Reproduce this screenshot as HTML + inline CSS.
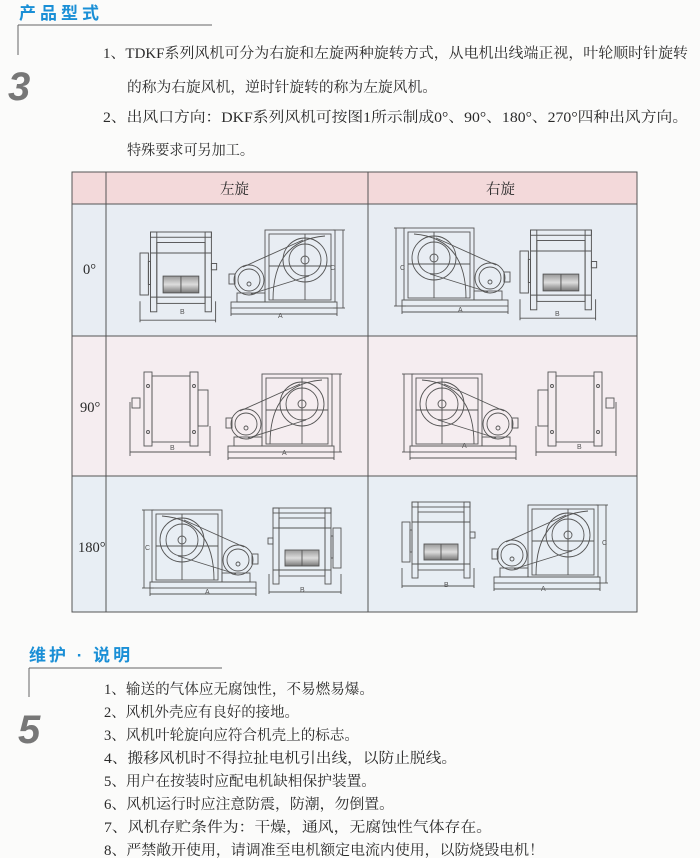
<!DOCTYPE html>
<html><head><meta charset="utf-8"><style>
html,body{margin:0;padding:0;background:#fbfbfa;}
svg{display:block}
.t{font-family:"Liberation Serif","Noto Serif CJK SC","Noto Sans CJK SC",serif;fill:#2a2a2a;font-size:14.5px}
.h{font-family:"Liberation Sans","Noto Sans CJK SC",sans-serif;fill:#1a8fd6;font-weight:bold;font-size:17px}
.d{fill:none;stroke:#555;stroke-width:0.9}
.dl{font-family:"Liberation Sans",sans-serif;font-size:7px;fill:#555}
</style></head><body>
<svg width="700" height="858" viewBox="0 0 700 858" xmlns="http://www.w3.org/2000/svg">
<defs>
<linearGradient id="wh" x1="0" y1="0" x2="0" y2="1"><stop offset="0" stop-color="#999"/><stop offset="0.5" stop-color="#ddd"/><stop offset="1" stop-color="#777"/></linearGradient>
<g id="side" class="d">
<rect x="40" y="0" width="70" height="72"/>
<rect x="44" y="4" width="62" height="66"/>
<path d="M48 70 Q48 10 100 6"/>
<line x1="44" y1="36" x2="106" y2="36"/>
<line x1="80" y1="4" x2="80" y2="70"/>
<circle cx="80" cy="30" r="22"/><circle cx="80" cy="30" r="16"/><circle cx="80" cy="30" r="4"/>
<circle cx="24" cy="50" r="15"/><circle cx="24" cy="50" r="11"/><circle cx="24" cy="54" r="2"/>
<line x1="18" y1="37" x2="78" y2="10"/><line x1="26" y1="64" x2="84" y2="46"/>
<rect x="4" y="44" width="6" height="10"/>
<rect x="12" y="63" width="28" height="9"/>
<rect x="6" y="72" width="106" height="6"/>
<line x1="6" y1="84" x2="112" y2="84"/><line x1="6" y1="78" x2="6" y2="86"/><line x1="112" y1="78" x2="112" y2="86"/>
<line x1="118" y1="0" x2="118" y2="78"/><line x1="108" y1="0" x2="120" y2="0"/><line x1="108" y1="78" x2="120" y2="78"/>
</g>
<g id="front" class="d">
<rect x="10" y="0" width="6" height="76"/><rect x="62" y="0" width="6" height="76"/>
<rect x="10" y="0" width="58" height="5"/>
<rect x="16" y="10" width="46" height="58"/>
<line x1="10" y1="20" x2="68" y2="20"/><line x1="10" y1="62" x2="68" y2="62"/>
<rect x="22" y="42" width="34" height="16" fill="url(#wh)"/><line x1="39" y1="42" x2="39" y2="58"/>
<rect x="0" y="20" width="8" height="40"/><rect x="8" y="28" width="2" height="22"/>
<rect x="68" y="30" width="5" height="6"/>
<line x1="0" y1="84" x2="72" y2="84"/><line x1="0" y1="66" x2="0" y2="86"/><line x1="72" y1="66" x2="72" y2="86"/>
</g>
<g id="box" class="d">
<rect x="14" y="0" width="8" height="74"/><rect x="60" y="0" width="8" height="74"/>
<rect x="22" y="4" width="38" height="66"/>
<circle cx="18" cy="14" r="1.5"/><circle cx="18" cy="60" r="1.5"/><circle cx="64" cy="14" r="1.5"/><circle cx="64" cy="60" r="1.5"/>
<rect x="68" y="18" width="10" height="36"/><rect x="2" y="26" width="8" height="10"/>
<line x1="0" y1="80" x2="80" y2="80"/><line x1="0" y1="30" x2="0" y2="84"/><line x1="80" y1="54" x2="80" y2="84"/>
</g>
</defs>

<!-- header 1 -->
<text class="h" x="19" y="19" letter-spacing="4">产品型式</text>
<line x1="18" y1="25" x2="212" y2="25" stroke="#666" stroke-width="1"/>
<line x1="18" y1="25" x2="18" y2="55" stroke="#666" stroke-width="1"/>
<text x="8" y="100" font-family="Liberation Sans,sans-serif" font-size="40" font-style="italic" font-weight="bold" fill="#777">3</text>

<text class="t" x="103" y="58" textLength="585" lengthAdjust="spacingAndGlyphs">1、TDKF系列风机可分为右旋和左旋两种旋转方式，从电机出线端正视，叶轮顺时针旋转</text>
<text class="t" x="127" y="92" textLength="310" lengthAdjust="spacingAndGlyphs">的称为右旋风机，逆时针旋转的称为左旋风机。</text>
<text class="t" x="103" y="122" textLength="585" lengthAdjust="spacingAndGlyphs">2、出风口方向：DKF系列风机可按图1所示制成0°、90°、180°、270°四种出风方向。</text>
<text class="t" x="127" y="155" textLength="127" lengthAdjust="spacingAndGlyphs">特殊要求可另加工。</text>

<!-- table -->
<rect x="72" y="172" width="565" height="32" fill="#f3d9da"/>
<rect x="72" y="204" width="565" height="132" fill="#e8edf3"/>
<rect x="72" y="336" width="565" height="140" fill="#f5edf0"/>
<rect x="72" y="476" width="565" height="136" fill="#e8eef4"/>
<g stroke="#555" stroke-width="1" fill="none">
<rect x="72" y="172" width="565" height="440"/>
<line x1="72" y1="204" x2="637" y2="204"/>
<line x1="72" y1="336" x2="637" y2="336"/>
<line x1="72" y1="476" x2="637" y2="476"/>
<line x1="106" y1="172" x2="106" y2="612"/>
<line x1="368" y1="172" x2="368" y2="612"/>
</g>
<text class="t" x="220" y="194" font-size="15">左旋</text>
<text class="t" x="486" y="194" font-size="15">右旋</text>
<text class="t" x="83" y="274">0°</text>
<text class="t" x="80" y="412">90°</text>
<text class="t" x="78" y="552">180°</text>

<!-- row 0 -->
<use href="#front" transform="translate(140,232) scale(1.05)"/>
<use href="#side" transform="translate(225,230)"/>
<use href="#side" transform="translate(514,228) scale(-1,1)"/>
<use href="#front" transform="translate(520,230) scale(1.05)"/>
<!-- row 90 -->
<use href="#box" transform="translate(130,372)"/>
<use href="#side" transform="translate(222,374)"/>
<use href="#side" transform="translate(522,374) scale(-1,1)"/>
<use href="#box" transform="translate(616,372) scale(-1,1)"/>
<!-- row 180 -->
<use href="#side" transform="translate(262,510) scale(-1,1)"/>
<use href="#front" transform="translate(341,508) scale(-1,1)"/>
<use href="#front" transform="translate(402,502)"/>
<use href="#side" transform="translate(488,505)"/>
<g class="dl">
<text x="180" y="314">B</text><text x="278" y="318">A</text><text x="330" y="270">C</text>
<text x="458" y="312">A</text><text x="555" y="316">B</text><text x="400" y="270">C</text>
<text x="170" y="450">B</text><text x="282" y="455">A</text>
<text x="462" y="448">A</text><text x="577" y="449">B</text>
<text x="205" y="594">A</text><text x="300" y="592">B</text><text x="145" y="550">C</text>
<text x="444" y="587">B</text><text x="541" y="591">A</text><text x="602" y="545">C</text>
</g>

<!-- header 2 -->
<text class="h" x="29" y="661" letter-spacing="3">维护 · 说明</text>
<line x1="29" y1="668" x2="222" y2="668" stroke="#666" stroke-width="1"/>
<line x1="29" y1="668" x2="29" y2="697" stroke="#666" stroke-width="1"/>
<text x="18" y="743" font-family="Liberation Sans,sans-serif" font-size="40" font-style="italic" font-weight="bold" fill="#777">5</text>

<g class="t">
<text x="104" y="694" textLength="270" lengthAdjust="spacingAndGlyphs">1、输送的气体应无腐蚀性，不易燃易爆。</text>
<text x="104" y="717" textLength="195" lengthAdjust="spacingAndGlyphs">2、风机外壳应有良好的接地。</text>
<text x="104" y="740" textLength="255" lengthAdjust="spacingAndGlyphs">3、风机叶轮旋向应符合机壳上的标志。</text>
<text x="104" y="763" textLength="353" lengthAdjust="spacingAndGlyphs">4、搬移风机时不得拉扯电机引出线，以防止脱线。</text>
<text x="104" y="786" textLength="272" lengthAdjust="spacingAndGlyphs">5、用户在按装时应配电机缺相保护装置。</text>
<text x="104" y="809" textLength="290" lengthAdjust="spacingAndGlyphs">6、风机运行时应注意防震，防潮，勿倒置。</text>
<text x="104" y="832" textLength="388" lengthAdjust="spacingAndGlyphs">7、风机存贮条件为：干燥，通风，无腐蚀性气体存在。</text>
<text x="104" y="855" textLength="440" lengthAdjust="spacingAndGlyphs">8、严禁敞开使用，请调准至电机额定电流内使用，以防烧毁电机！</text>
</g>
</svg>
</body></html>
